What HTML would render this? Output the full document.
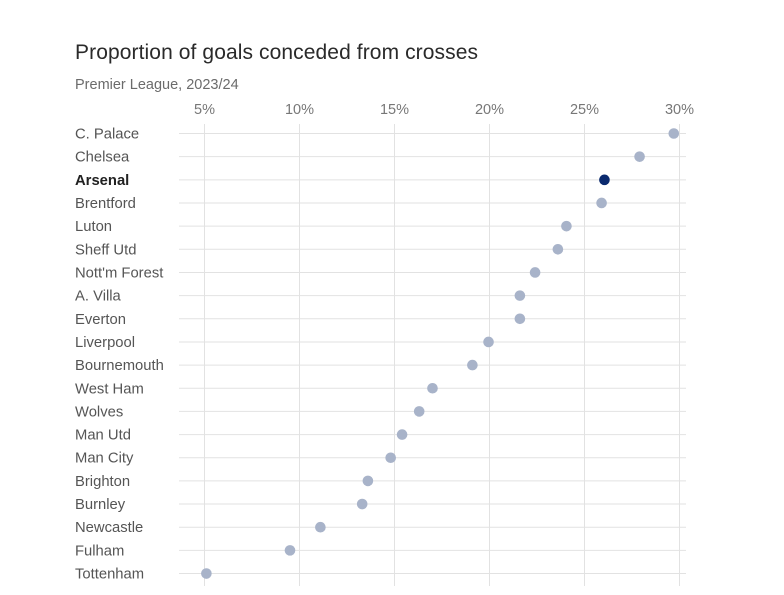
<!DOCTYPE html>
<html><head><meta charset="utf-8"><style>
body{margin:0;background:#fff;width:784px;height:590px;overflow:hidden;font-family:"Liberation Sans",sans-serif}
svg text{font-family:"Liberation Sans",sans-serif}
</style></head><body>
<svg id="chart" width="784" height="590">
<text x="75" y="59" font-size="21" fill="#2a2a2a" textLength="403">Proportion of goals conceded from crosses</text>
<text x="75" y="89" font-size="14.5" fill="#6b6b6b">Premier League, 2023/24</text>
<g id="grid"></g><g id="labels"></g><g id="dots"></g>
</svg>
<script>
const teams=["C. Palace","Chelsea","Arsenal","Brentford","Luton","Sheff Utd","Nott'm Forest","A. Villa","Everton","Liverpool","Bournemouth","West Ham","Wolves","Man Utd","Man City","Brighton","Burnley","Newcastle","Fulham","Tottenham"];
const values=[29.7,27.9,26.05,25.9,24.05,23.6,22.4,21.6,21.6,19.95,19.1,17,16.3,15.4,14.8,13.6,13.3,11.1,9.5,5.1];
const ticks=[5,10,15,20,25,30];
const tickLabels=["5%","10%","15%","20%","25%","30%"];
const highlight="Arsenal";
const NS="http://www.w3.org/2000/svg";
const x=v=>204.5+(v-5)*19;
const y=i=>133.5+i*23.16;
function mk(tag,attrs,parent){const e=document.createElementNS(NS,tag);for(const k in attrs)e.setAttribute(k,attrs[k]);document.getElementById(parent).appendChild(e);return e;}
teams.forEach((t,i)=>{
 const l=mk("line",{x1:179,x2:686,y1:y(i),y2:y(i),stroke:"#e2e2e2","stroke-width":1},"grid");
 
 
});
ticks.forEach((v,i)=>{
 const l=mk("line",{x1:x(v),x2:x(v),y1:124,y2:586,stroke:"#e2e2e2","stroke-width":1},"grid");
 
 
 const tx=mk("text",{x:x(v),y:114,"text-anchor":"middle","font-size":14.5,fill:"#777"},"grid");
 tx.textContent=tickLabels[i];
 
 
});
teams.forEach((t,i)=>{
 const hl=t===highlight;
 const tx=mk("text",{x:75,y:y(i)+5,"font-size":14.8,fill:hl?"#222":"#555","font-weight":hl?"bold":"normal"},"labels");
 tx.textContent=t;
 
 
 const c=mk("circle",{cx:x(values[i]),cy:y(i),r:5.3,fill:hl?"#0a2a6e":"#a8b3c9"},"dots");
 
 
});
</script>
</body></html>
